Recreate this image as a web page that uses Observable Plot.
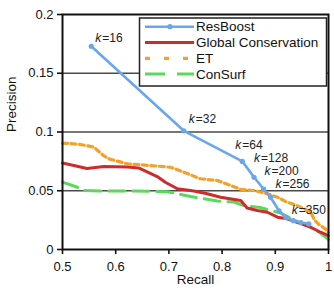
<!DOCTYPE html>
<html>
<head>
<meta charset="utf-8">
<script src="https://cdn.jsdelivr.net/npm/d3@7"></script>
<script src="https://cdn.jsdelivr.net/npm/@observablehq/plot@0.6"></script>
<style>
  html, body { margin: 0; padding: 0; background: #fff; }
  #chart svg { display: block; }
</style>
</head>
<body>
<div id="chart"></div>
<script>
// Precision–recall curves of four residue predictors.
const seriesNames = ["ResBoost", "Global Conservation", "ET", "ConSurf"];
const seriesColors = ["#6aa6ea", "#d02a2a", "#f2a22a", "#5cd85c"];

// ResBoost: one vertex per top-k cutoff.
const resRecall    = [0.554, 0.728, 0.838, 0.860, 0.878, 0.891, 0.907, 0.920, 0.934, 0.948, 0.963];
const resPrecision = [0.173, 0.101, 0.075, 0.0615, 0.0515, 0.0445, 0.033, 0.027, 0.0245, 0.023, 0.0218];
const resK         = [16, 32, 64, 128, 200, 256, null, null, null, 350, null];

const globalRecall    = [0.500, 0.515, 0.546, 0.578, 0.622, 0.643, 0.659, 0.678, 0.694, 0.716, 0.747, 0.772, 0.797, 0.835, 0.847, 0.866, 0.885, 0.904, 0.922, 0.941, 0.966, 0.985, 1.000];
const globalPrecision = [0.0736, 0.0721, 0.0689, 0.0706, 0.0702, 0.0694, 0.0660, 0.0621, 0.0570, 0.0517, 0.0498, 0.0474, 0.0445, 0.0417, 0.0353, 0.0332, 0.0317, 0.0275, 0.0261, 0.0232, 0.0190, 0.0147, 0.0119];

const etRecall    = [0.500, 0.534, 0.559, 0.566, 0.577, 0.587, 0.622, 0.665, 0.703, 0.728, 0.759, 0.791, 0.816, 0.835, 0.860, 0.885, 0.904, 0.922, 0.941, 0.954, 0.966, 0.974, 0.982, 0.994, 1.000];
const etPrecision = [0.0906, 0.0894, 0.0871, 0.0843, 0.0800, 0.0772, 0.0729, 0.0715, 0.0700, 0.0658, 0.0602, 0.0587, 0.0545, 0.0511, 0.0502, 0.0474, 0.0445, 0.0403, 0.0374, 0.0346, 0.0323, 0.0247, 0.0213, 0.0176, 0.0145];

const consurfRecall    = [0.500, 0.528, 0.540, 0.571, 0.628, 0.697, 0.741, 0.791, 0.822, 0.841, 0.872, 0.891, 0.910, 0.935, 0.966, 0.985, 1.000];
const consurfPrecision = [0.0574, 0.0530, 0.0502, 0.0498, 0.0498, 0.0492, 0.0451, 0.0413, 0.0404, 0.0374, 0.0357, 0.0332, 0.0311, 0.0251, 0.0190, 0.0140, 0.0085];

const recallTicks = [0.5, 0.6, 0.7, 0.8, 0.9, 1];
const precisionTicks = [0, 0.05, 0.1, 0.15, 0.2];
const gridLevels = [0.05, 0.1, 0.15];

const toRows = (xs, ys) => xs.map((x, i) => ({recall: x, precision: ys[i]}));
const resRows = resRecall.map((x, i) => ({recall: x, precision: resPrecision[i], k: resK[i]}));
const globalRows = toRows(globalRecall, globalPrecision);
const etRows = toRows(etRecall, etPrecision);
const consurfRows = toRows(consurfRecall, consurfPrecision);

// Nudges for the "k =" annotations, in pixels, keyed by cutoff.
const kLabelNudge = {16: [4, -8], 32: [5, -12], 64: [-7, -16], 128: [0, -19], 200: [1, -18], 256: [5, -13], 350: [-9, -12]};
const kRows = resRows.filter(d => d.k != null);

const font = "'Liberation Sans', Arial, Helvetica, sans-serif";

const kMarks = kRows.flatMap(d => {
  const [dx, dy] = kLabelNudge[d.k];
  return [
    Plot.text([d], {x: "recall", y: "precision", text: () => "k", fontStyle: "italic",
      textAnchor: "start", dx, dy, fontSize: 12, fill: "#222"}),
    Plot.text([d], {x: "recall", y: "precision", text: r => "=" + r.k,
      textAnchor: "start", dx: dx + 7, dy, fontSize: 12, fill: "#222"})
  ];
});

const svg = Plot.plot({
  width: 334,
  height: 297,
  marginLeft: 62,
  marginRight: 6,
  marginTop: 14,
  marginBottom: 48,
  style: {fontFamily: font, fontSize: "13px", color: "#111", background: "white"},
  x: {domain: [0.5, 1]},
  y: {domain: [0, 0.2]},
  marks: [
    Plot.ruleY(gridLevels, {stroke: "#4a4a4a", strokeWidth: 1.3}),
    Plot.line(consurfRows, {x: "recall", y: "precision", stroke: seriesColors[3], strokeWidth: 3, strokeDasharray: "16,8"}),
    Plot.line(globalRows, {x: "recall", y: "precision", stroke: seriesColors[1], strokeWidth: 3}),
    Plot.line(etRows, {x: "recall", y: "precision", stroke: seriesColors[2], strokeWidth: 3.2, strokeDasharray: "5,3.5"}),
    Plot.line(resRows, {x: "recall", y: "precision", stroke: seriesColors[0], strokeWidth: 2.6}),
    Plot.dot(resRows, {x: "recall", y: "precision", r: 2.6, fill: seriesColors[0]}),
    ...kMarks,
    Plot.frame({stroke: "#111", strokeWidth: 2}),
    Plot.axisX({ticks: recallTicks, tickSize: 5, tickPadding: 7, tickFormat: d => String(d),
      label: null, fontSize: 13, strokeWidth: 1.6}),
    Plot.axisY({ticks: precisionTicks, tickSize: 5, tickPadding: 4, tickFormat: d => String(d),
      label: null, fontSize: 13, strokeWidth: 1.6}),
    Plot.text(["Precision"], {frameAnchor: "left", rotate: -90, dx: -51, fontSize: 13.5, fill: "#111"}),
    Plot.text(["Recall"], {frameAnchor: "bottom", dy: 34, fontSize: 13.5, fill: "#111"})
  ]
});

// Legend box drawn inside the plot area, top right.
const legend = d3.select(svg).append("g")
  .attr("font-family", font).attr("font-size", 13.5).attr("text-anchor", "start");
legend.append("rect")
  .attr("x", 139.5).attr("y", 18).attr("width", 187).attr("height", 68)
  .attr("fill", "white").attr("stroke", "#222").attr("stroke-width", 1.5);
const legendDash = [null, null, "5,14", "20,12"];
const legendWidth = [2.6, 3, 3.2, 3];
seriesNames.forEach((name, i) => {
  const y = 26.7 + i * 15.8;
  legend.append("line")
    .attr("x1", 145).attr("x2", 194).attr("y1", y).attr("y2", y)
    .attr("stroke", seriesColors[i]).attr("stroke-width", legendWidth[i])
    .attr("stroke-dasharray", legendDash[i]);
  if (i === 0) legend.append("circle").attr("cx", 170).attr("cy", y).attr("r", 2.6).attr("fill", seriesColors[0]);
  legend.append("text").attr("x", 196).attr("y", y).attr("dy", "0.35em")
    .attr("text-anchor", "start").attr("fill", "#111").text(name);
});

document.getElementById("chart").appendChild(svg);
</script>
</body>
</html>
